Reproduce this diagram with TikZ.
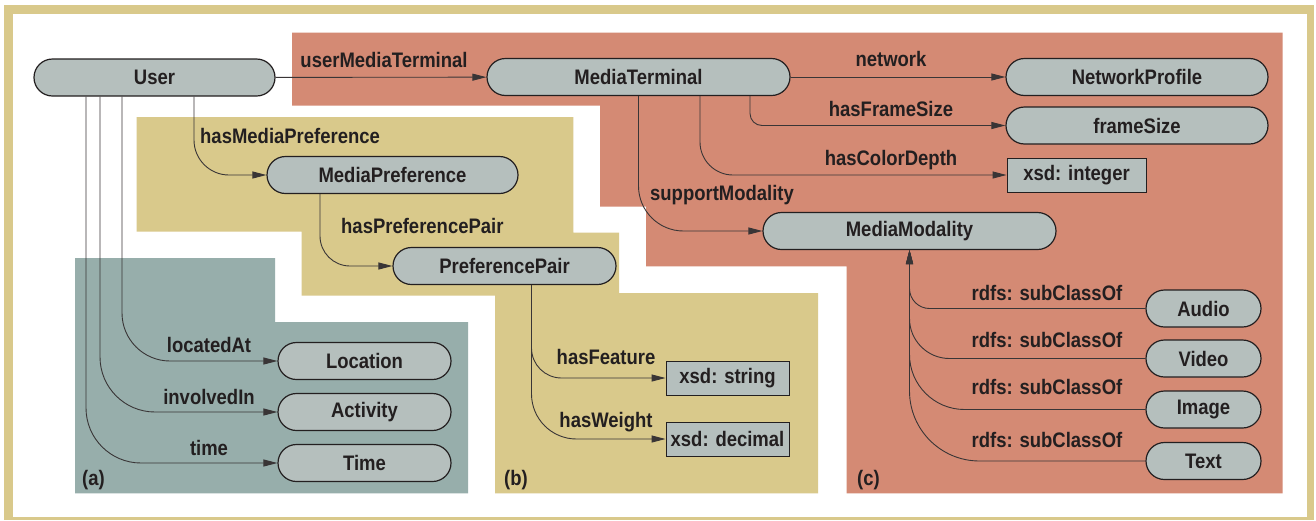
\documentclass[tikz,border=0pt]{standalone}
\usepackage{fontspec}
\newfontfamily\figfont{Liberation Sans}[FakeStretch=0.88]
\usetikzlibrary{arrows.meta}
\definecolor{frametan}{HTML}{D9C98B}
\definecolor{zonered}{HTML}{D48A74}
\definecolor{zoneteal}{HTML}{97AEAB}
\definecolor{nodegray}{HTML}{B5BFBD}
\definecolor{ink}{HTML}{231F20}

\begin{document}
\begin{tikzpicture}[x=1pt, y=-1pt,
    every node/.style={font={\figfont\bfseries\fontsize{21}{24}\selectfont}, text=ink, inner sep=0pt},
    cls/.style={draw=ink, line width=1.2pt, fill=nodegray, rounded corners=18.5pt, minimum height=37pt},
    lit/.style={draw=ink, line width=0.9pt, fill=nodegray, minimum height=34pt},
    rel/.style={anchor=base},
    link/.style={draw=ink!90, line width=0.9pt, -{Triangle[length=14pt,width=7pt]}}]
  \useasboundingbox (0,0) rectangle (1316,520);
  % frame
  \fill[frametan] (4,5) rectangle (1314,520);
  \fill[white] (12.7,14) rectangle (1306.7,517.3);
  % zones (a), (b), (c)
  \fill[zonered] (292,32.7) -- (1282.7,32.7) -- (1282.7,493.3) -- (846.5,493.3) -- (846.5,266.3)
     -- (646,266.3) -- (646,206.7) -- (600,206.7) -- (600,105.7) -- (292,105.7) -- cycle;
  \fill[frametan] (136.7,117) -- (573.3,117) -- (573.3,232.7) -- (619,232.7) -- (619,293) -- (818,293)
     -- (818,493.3) -- (495,493.3) -- (495,295.7) -- (301.7,295.7) -- (301.7,231.7) -- (136.7,231.7) -- cycle;
  \fill[zoneteal] (75,258) -- (275,258) -- (275,322) -- (468,322) -- (468,493.3) -- (75,493.3) -- cycle;

  \node[anchor=base west] (tag-a) at (82,485) {(a)};
  \node[anchor=base west] (tag-b) at (504,485) {(b)};
  \node[anchor=base west] (tag-c) at (857,485) {(c)};

  % classes and literals
  \node[cls, minimum width=241pt] (user) at (154.5,77.5) {User};
  \node[cls, minimum width=303pt] (terminal) at (638.5,77) {MediaTerminal};
  \node[cls, minimum width=262pt] (netprofile) at (1137,77) {NetworkProfile};
  \node[cls, minimum width=262pt] (framesize) at (1137,125.5) {frameSize};
  \node[lit, minimum width=139pt] (intlit) at (1076.5,175) {xsd: integer};
  \node[cls, minimum width=293pt] (modality) at (909.5,231) {MediaModality};
  \node[cls, minimum width=251pt] (mediapref) at (392.5,175) {MediaPreference};
  \node[cls, minimum width=223pt] (prefpair) at (504.5,266) {PreferencePair};
  \node[cls, minimum width=173pt] (location) at (364.5,361) {Location};
  \node[cls, minimum width=173pt] (activity) at (364.5,412) {Activity};
  \node[cls, minimum width=173pt] (time) at (364.5,463) {Time};
  \node[lit, minimum width=123pt] (strlit) at (727.5,378) {xsd: string};
  \node[lit, minimum width=123pt] (declit) at (727.5,439) {xsd: decimal};
  \node[cls, minimum width=115pt] (audio) at (1203.5,308.5) {Audio};
  \node[cls, minimum width=115pt] (video) at (1203.5,358.5) {Video};
  \node[cls, minimum width=115pt] (image) at (1203.5,409.5) {Image};
  \node[cls, minimum width=115pt] (txt) at (1203.5,461) {Text};

  % properties
  \draw[link] (user) -- (terminal);
  \draw[link] (terminal) -- (netprofile);
  \draw[link, rounded corners=12pt] ([xshift=111.5pt]terminal.south) |- (framesize);
  \draw[link, rounded corners=33pt] ([xshift=61.5pt]terminal.south) |- (intlit);
  \draw[link, rounded corners=45pt] (terminal.south) |- (modality);
  \draw[link, rounded corners=35pt] ([xshift=39.5pt]user.south) |- (mediapref);
  \draw[link, rounded corners=48pt] ([xshift=-32.5pt]user.south) |- (location);
  \draw[link, rounded corners=55pt] ([xshift=-54.5pt]user.south) |- (activity);
  \draw[link, rounded corners=55pt] ([xshift=-68.5pt]user.south) |- (time);
  \draw[link, rounded corners=30pt] ([xshift=-72.5pt]mediapref.south) |- (prefpair);
  \draw[link, rounded corners=30pt] ([xshift=27pt]prefpair.south) |- (strlit);
  \draw[link, rounded corners=45pt] ([xshift=27pt]prefpair.south) |- (declit);
  \foreach \sub/\r in {audio/20, video/40, image/55, txt/70}
    \draw[link, rounded corners=\r pt] (\sub) -| (modality.south);

  \node[rel] (lbl-umt) at (384,67.5) {userMediaTerminal};
  \node[rel] (lbl-net) at (891,66.5) {network};
  \node[rel] (lbl-fs) at (891,116.5) {hasFrameSize};
  \node[rel] (lbl-cd) at (891,165) {hasColorDepth};
  \node[rel] (lbl-sm) at (722,200) {supportModality};
  \node[rel, anchor=base west] (lbl-hmp) at (200,143) {hasMediaPreference};
  \node[rel, anchor=base west] (lbl-hpp) at (341,233) {hasPreferencePair};
  \node[rel] (lbl-loc) at (209,352.5) {locatedAt};
  \node[rel] (lbl-inv) at (209,404) {involvedIn};
  \node[rel] (lbl-time) at (209,455) {time};
  \node[rel] (lbl-feat) at (606,364) {hasFeature};
  \node[rel] (lbl-wt) at (606,427) {hasWeight};
  \foreach \y [count=\i] in {300,347.3,394.3,447.3}
    \node[rel] (lbl-sub\i) at (1047,\y) {rdfs: subClassOf};
\end{tikzpicture}
\end{document}
